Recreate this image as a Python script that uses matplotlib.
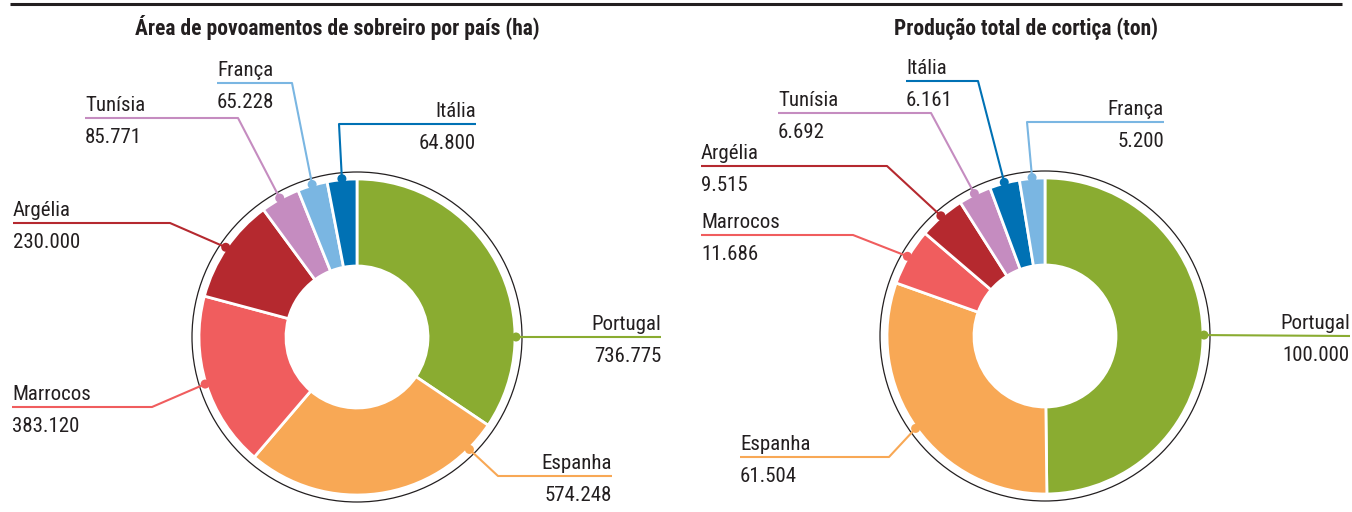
import numpy as np
import matplotlib
matplotlib.use("Agg")
import matplotlib.pyplot as plt
from matplotlib import font_manager
from matplotlib.patches import Circle

# Data
area_countries = ["Portugal", "Espanha", "Marrocos", "Argélia", "Tunísia", "França", "Itália"]
area_ha = [736775, 574248, 383120, 230000, 85771, 65228, 64800]

prod_countries = ["Portugal", "Espanha", "Marrocos", "Argélia", "Tunísia", "Itália", "França"]
cork_ton = [100000, 61504, 11686, 9515, 6692, 6161, 5200]

titles = ["Área de povoamentos de sobreiro por país (ha)", "Produção total de cortiça (ton)"]

COLORS = {
    "Portugal": "#8aac31",
    "Espanha": "#f8a855",
    "Marrocos": "#f05d5e",
    "Argélia": "#b5292f",
    "Tunísia": "#c58cc0",
    "França": "#7ab6e2",
    "Itália": "#0071b4",
}
TEXT = "#231f20"

# pick a narrow font if there is one
names = {f.name for f in font_manager.fontManager.ttflist}
FONT = "DejaVu Sans"
for cand in ["Liberation Sans Narrow", "DejaVu Sans Condensed", "Roboto Condensed", "Roboto"]:
    if cand in names:
        FONT = cand
        break
plt.rcParams["font.family"] = [FONT, "DejaVu Sans"]

W, H = 1352, 512
R, R_IN, R_RING = 158, 71, 165

# layout in pixel coords (y down): leader elbow x, line y, line end x, text side
layouts = [
    dict(center=(357, 337), title_x=337,
         anchors={"Portugal": 0, "Espanha": -45},
         leaders={
             "Portugal": (None, 337, 661, "right"),
             "Espanha": (498, 476, 612, "right"),
             "Marrocos": (152, 407, 12, "left"),
             "Argélia": (170, 223, 13, "left"),
             "Tunísia": (238, 118, 85, "left"),
             "França": (292, 83, 217, "left"),
             "Itália": (339, 124, 476, "right"),
         }),
    dict(center=(1045, 336), title_x=1026,
         anchors={},
         leaders={
             "Portugal": (None, 336, 1350, "right"),
             "Espanha": (889, 457, 740, "left"),
             "Marrocos": (853, 235, 701, "left"),
             "Argélia": (887, 166, 701, "left"),
             "Tunísia": (931, 113, 778, "left"),
             "Itália": (978, 81, 906, "left"),
             "França": (1027, 122, 1164, "right"),
         }),
]


def up(y):
    return H - y


def fmt(v):
    return f"{v:,}".replace(",", ".")


fig = plt.figure(figsize=(W / 100, H / 100), dpi=100)
ax = fig.add_axes([0, 0, 1, 1])

charts = [(area_countries, area_ha), (prod_countries, cork_ton)]
for (countries, values), lay, title in zip(charts, layouts, titles):
    cx, cy = lay["center"][0], up(lay["center"][1])
    wedges, _ = ax.pie(values, colors=[COLORS[c] for c in countries],
                       startangle=90, counterclock=False, center=(cx, cy), radius=R,
                       wedgeprops=dict(width=R - R_IN, edgecolor="white", linewidth=2))
    ax.add_patch(Circle((cx, cy), R_RING, fill=False, ec=TEXT, lw=0.9, zorder=3))

    for w, country, v in zip(wedges, countries, values):
        col = COLORS[country]
        ang = lay["anchors"].get(country, (w.theta1 + w.theta2) / 2)
        a = np.deg2rad(ang)
        dx, dy = cx + (R + 1) * np.cos(a), cy + (R + 1) * np.sin(a)
        ex, ly, end_x, side = lay["leaders"][country]
        ly = up(ly)
        if ex is None:
            xs, ys = [dx, end_x], [dy, ly]
        else:
            xs, ys = [dx, ex, end_x], [dy, ly, ly]
        ax.plot(xs, ys, color=col, lw=1.5, solid_capstyle="butt", zorder=4)
        ax.add_patch(Circle((dx, dy), 4.5, fc=col, ec="none", zorder=5))
        ax.text(end_x, ly + 7, country, ha=side, va="baseline",
                fontsize=15, color=TEXT)
        ax.text(end_x, ly - 25, fmt(v), ha=side, va="baseline",
                fontsize=15, color=TEXT)

    ax.text(lay["title_x"], up(35), title, ha="center", va="baseline",
            fontsize=15.5, fontweight="bold", color=TEXT)

# top rule
ax.plot([10, 1342], [up(4), up(4)], color=TEXT, lw=2.2, solid_capstyle="butt")

ax.set_xlim(0, W)
ax.set_ylim(0, H)
ax.set_aspect("equal")
ax.axis("off")

fig.savefig("out.png", dpi=100, facecolor="white")
